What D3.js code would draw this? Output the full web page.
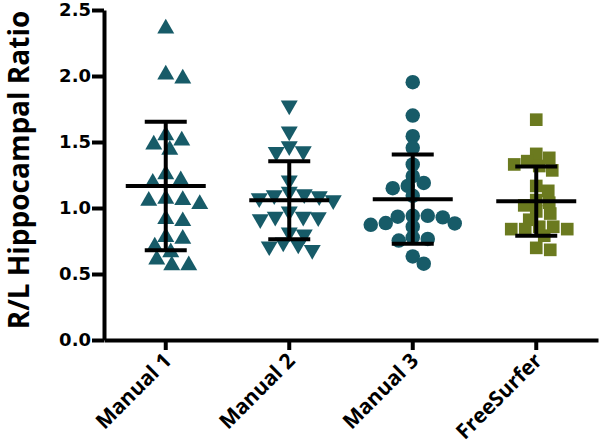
<!DOCTYPE html>
<html><head><meta charset="utf-8">
<script src="https://cdn.jsdelivr.net/npm/d3@7"></script>
<style>body{margin:0;background:#fff}svg{display:block}</style>
</head><body>
<svg id="c" width="600" height="448"></svg>
<script>
const categories = ["Manual 1","Manual 2","Manual 3","FreeSurfer"];
const manual1 = [2.36,2.01,1.98,1.51,1.44,1.48,1.55,1.255,1.19,1.21,1.06,1.03,1.054,1.07,0.916,0.90,0.78,0.766,0.708,0.665,0.61,0.565,0.565];
const manual2 = [1.777,1.58,1.468,1.43,1.425,1.21,1.105,1.097,1.09,1.124,1.06,1.074,0.934,0.93,0.916,0.934,0.974,0.80,0.815,0.723,0.683,0.71,0.74];
const manual3 = [1.953,1.70,1.544,1.456,1.33,1.242,1.167,1.15,1.19,1.092,0.941,0.929,0.934,0.941,0.883,0.858,0.886,0.873,0.766,0.753,0.778,0.633,0.578];
const freesurfer = [1.669,1.41,1.355,1.285,1.318,1.33,1.38,1.167,1.13,1.06,1.02,1.04,0.958,0.974,0.858,0.911,0.79,0.84,0.84,0.84,0.858,0.683,0.698];
const means = [1.167,1.059,1.067,1.052];
const sds = [0.487,0.295,0.338,0.262];
const yTicks = [0,0.5,1.0,1.5,2.0,2.5];
const yTitle = "R/L Hippocampal Ratio";

const series = [manual1, manual2, manual3, freesurfer];
const colors = ["#175b68","#175b68","#175b68","#6b7a1f"];
const shapes = [d3.symbolTriangle, d3.symbolTriangle, d3.symbolCircle, d3.symbolSquare];
const rotations = [0,180,0,0];
const areas = [125, 125, 165, 160];
const diam = [17, 15, 14.5, 13.5];

const svg = d3.select("#c");
const x = d3.scaleBand().domain(categories).range([104, 598]).padding(0);
const y = d3.scaleLinear().domain([0, 2.5]).range([340, 10]);

// y axis
const ya = svg.append("g").attr("transform","translate(104,0)")
  .call(d3.axisLeft(y).tickValues(yTicks).tickFormat(d3.format(".1f")).tickSize(12).tickSizeOuter(0).tickPadding(1));
ya.select(".domain").attr("stroke","#000").attr("stroke-width",4);
ya.selectAll(".tick line").attr("stroke","#000").attr("stroke-width",4);
ya.selectAll(".tick text").attr("font-family","DejaVu Sans").attr("font-weight","bold").attr("font-size",18).attr("fill","#000");

// x axis
const xa = svg.append("g").attr("transform","translate(0,340)")
  .call(d3.axisBottom(x).tickSize(10).tickSizeOuter(0));
xa.select(".domain").attr("stroke","#000").attr("stroke-width",4);
xa.selectAll(".tick line").attr("stroke","#000").attr("stroke-width",4);
xa.selectAll(".tick text")
  .attr("font-family","Open Sans").attr("font-weight","bold").attr("font-size",21).attr("fill","#000")
  .attr("text-anchor","end").attr("x",0).attr("y",0).attr("dy",0)
  .attr("transform","translate(7,22) rotate(-45)");

// y title
svg.append("text").attr("transform","translate(29,170) rotate(-90)")
  .attr("text-anchor","middle").attr("font-family","Open Sans").attr("font-weight","bold")
  .attr("font-size",28).attr("fill","#000").text(yTitle);

// swarm positions (rows: vertical distance weighted more than horizontal)
function swarm(vals, d) {
  const order = d3.range(vals.length).sort((a,b)=>vals[b]-vals[a]);
  const placed = [];
  const off = new Array(vals.length);
  for (const i of order) {
    const py = y(vals[i]);
    for (let k = 0; k < 200; k++) {
      const o = (k % 2 ? 1 : -1) * Math.ceil(k/2);
      if (placed.every(p => (p.x-o)**2 + ((p.y-py)*1.4)**2 >= d**2)) { off[i] = o; placed.push({x:o,y:py}); break; }
    }
  }
  return off;
}

series.forEach((vals, gi) => {
  const cx = x(categories[gi]) + x.bandwidth()/2;
  const offs = swarm(vals, diam[gi]);
  const sym = d3.symbol().type(shapes[gi]).size(areas[gi]);
  svg.append("g").selectAll("path").data(vals).join("path")
    .attr("d", sym)
    .attr("fill", colors[gi])
    .attr("transform", (v,i) => `translate(${cx+offs[i]},${y(v)}) rotate(${rotations[gi]})`);
  const m = means[gi], s = sds[gi];
  const g = svg.append("g").attr("stroke","#000").attr("stroke-width",4);
  g.append("line").attr("x1",cx-40).attr("x2",cx+40).attr("y1",y(m)).attr("y2",y(m));
  g.append("line").attr("x1",cx).attr("x2",cx).attr("y1",y(m+s)).attr("y2",y(m-s));
  g.append("line").attr("x1",cx-21).attr("x2",cx+21).attr("y1",y(m+s)).attr("y2",y(m+s));
  g.append("line").attr("x1",cx-21).attr("x2",cx+21).attr("y1",y(m-s)).attr("y2",y(m-s));
});
</script>
</body></html>
